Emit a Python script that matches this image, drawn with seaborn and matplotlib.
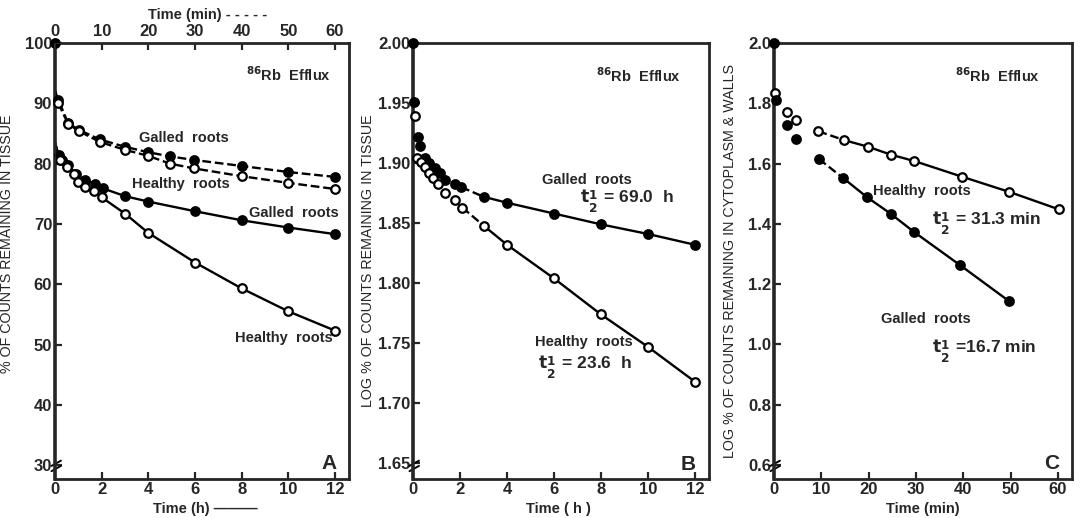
import numpy as np
import matplotlib
matplotlib.use("Agg")
import matplotlib.pyplot as plt
import seaborn as sns

# ---- panel A: % of counts remaining (solid = hours, dashed = minutes)
a_min_galled = [0, 0.7, 2.8, 5.1, 9.6, 14.9, 19.9, 24.6, 29.8, 40.1, 50, 59.9]
a_min_galled_pct = [92.0, 90.6, 86.7, 85.6, 84.0, 82.8, 81.9, 81.2, 80.6, 79.6, 78.6, 77.8]
a_min_healthy = [0, 0.7, 2.8, 5.1, 9.6, 14.9, 19.9, 24.6, 29.8, 40.1, 50, 59.9]
a_min_healthy_pct = [92.0, 90.0, 86.6, 85.4, 83.6, 82.3, 81.3, 80.0, 79.2, 77.9, 76.8, 75.8]

a_h_galled = [0, 0.15, 0.3, 0.55, 0.9, 1.3, 1.7, 2.05, 3, 4, 6, 8, 10, 12]
a_h_galled_pct = [83.5, 81.4, 80.6, 79.7, 78.3, 77.2, 76.7, 75.9, 74.6, 73.7, 72.1, 70.6, 69.4, 68.3]
a_h_healthy = [0, 0.2, 0.5, 0.8, 1.0, 1.3, 1.65, 2.0, 3, 4, 6, 8, 10, 12]
a_h_healthy_pct = [83.5, 80.6, 79.4, 78.3, 76.9, 76.1, 75.4, 74.4, 71.7, 68.5, 63.6, 59.3, 55.5, 52.3]

# ---- panel B: log % remaining in tissue
b_galled_h = [0.22, 0.3, 0.5, 0.7, 0.92, 1.13, 1.34, 1.77, 2.05, 3, 4, 6, 8, 10, 12]
b_galled_log = [1.922, 1.914, 1.904, 1.900, 1.896, 1.892, 1.886, 1.883, 1.880,
                1.872, 1.867, 1.858, 1.849, 1.841, 1.832]
b_healthy_h = [0.1, 0.15, 0.35, 0.5, 0.7, 0.85, 1.05, 1.35, 1.8, 2.1, 3, 4, 6, 8, 10, 12]
b_healthy_log = [1.939, 1.904, 1.901, 1.897, 1.892, 1.888, 1.883, 1.875, 1.869, 1.863,
                 1.848, 1.832, 1.804, 1.774, 1.747, 1.718]
b_first_galled = [0.05, 1.951]

# ---- panel C: log % remaining in cytoplasm & walls
c_healthy_min = [0.3, 2.8, 4.7, 9.4, 14.75, 19.8, 24.8, 29.7, 39.8, 49.7, 60.2]
c_healthy_log = [1.833, 1.770, 1.743, 1.707, 1.678, 1.656, 1.629, 1.608, 1.556, 1.506, 1.448]
c_galled_min = [0.5, 2.8, 4.7, 9.5, 14.6, 19.6, 24.7, 29.5, 39.4, 49.7]
c_galled_log = [1.81, 1.727, 1.683, 1.615, 1.552, 1.489, 1.433, 1.374, 1.262, 1.143]

a_yticks = [30, 40, 50, 60, 70, 80, 90, 100]
b_yticks = [1.65, 1.70, 1.75, 1.80, 1.85, 1.90, 1.95, 2.00]
c_yticks = [0.6, 0.8, 1.0, 1.2, 1.4, 1.6, 1.8, 2.0]
h_ticks = [0, 2, 4, 6, 8, 10, 12]
min_ticks = [0, 10, 20, 30, 40, 50, 60]

sns.set_style("ticks", {"xtick.direction": "in", "ytick.direction": "in"})
plt.rcParams["font.family"] = ["Liberation Sans", "DejaVu Sans"]
plt.rcParams["mathtext.default"] = "bf"

fig = plt.figure(figsize=(10.81, 5.18), dpi=100)
axA = fig.add_axes([0.0509, 0.0753, 0.272, 0.8417])
axB = fig.add_axes([0.3821, 0.0753, 0.2738, 0.8417])
axC = fig.add_axes([0.7160, 0.0753, 0.2757, 0.8417])

K = "black"
TXT = dict(fontsize=10.5, fontweight="bold", va="center")
HALF = dict(fontsize=12.5, fontweight="bold", va="center")
TICK = 12
T_HALF = r"$t_{\genfrac{}{}{0}{0}{1}{2}}$"


def line(ax, x, y, ls="-"):
    sns.lineplot(x=x, y=y, ax=ax, color=K, linestyle=ls, lw=1.7,
                 estimator=None, sort=False, zorder=2)


def pts(ax, x, y, filled):
    sns.scatterplot(x=x, y=y, ax=ax, s=38, marker="o",
                    facecolor=K if filled else "white", edgecolor=K,
                    linewidth=1.6, zorder=3, clip_on=False)


def frame(ax):
    for side in ["top", "right", "bottom"]:
        ax.spines[side].set_linewidth(2)
    ax.spines["left"].set_linewidth(2.6)
    ax.tick_params(axis="x", length=5, width=1.6, labelsize=TICK, pad=2)
    ax.tick_params(axis="y", length=5, width=1.6, labelsize=TICK, pad=2)
    for lab in ax.get_xticklabels() + ax.get_yticklabels():
        lab.set_fontweight("bold")
    # axis break marks
    for dy in (0.0, 0.012):
        ax.plot([-0.012, 0.02], [0.018 + dy, 0.03 + dy], transform=ax.transAxes,
                color=K, lw=1.4, clip_on=False)


# ---------------- A
axA.set_xlim(0, 12.6)
axA.set_ylim(27.7, 100)
axA.set_xticks(h_ticks)
axA.set_yticks(a_yticks)
line(axA, a_h_galled, a_h_galled_pct)
line(axA, a_h_healthy, a_h_healthy_pct)
pts(axA, a_h_galled[1:], a_h_galled_pct[1:], True)
pts(axA, a_h_healthy[1:], a_h_healthy_pct[1:], False)
pts(axA, [0], [100], True)

axA2 = axA.twiny()
axA2.set_xlim(0, 63)
axA2.set_xticks(min_ticks)
line(axA2, a_min_galled, a_min_galled_pct, "--")
line(axA2, a_min_healthy, a_min_healthy_pct, "--")
pts(axA2, a_min_galled[1:], a_min_galled_pct[1:], True)
pts(axA2, a_min_healthy[1:], a_min_healthy_pct[1:], False)
axA2.tick_params(length=5, width=1.6, labelsize=TICK, pad=3)
for lab in axA2.get_xticklabels():
    lab.set_fontweight("bold")
axA2.set_xlabel("Time (min) - - - - -", fontsize=10.5, fontweight="bold")
axA2.xaxis.set_label_coords(0.52, 1.055)
frame(axA)

axA.set_ylabel("% OF COUNTS REMAINING IN TISSUE", fontsize=10.3)
axA.yaxis.set_label_coords(-0.14, 0.54)
axA.set_xlabel("Time (h) ———", fontsize=10.5, fontweight="bold")
axA.xaxis.set_label_coords(0.51, -0.052)
axA.text(8.2, 94.7, r"$^{86}$Rb  Efflux", **TXT)
axA.text(3.6, 84.3, "Galled  roots", **TXT)
axA.text(3.3, 76.6, "Healthy  roots", **TXT)
axA.text(8.3, 71.8, "Galled  roots", **TXT)
axA.text(7.7, 51.0, "Healthy  roots", **TXT)
axA.text(11.4, 30.3, "A", fontsize=15, fontweight="bold", va="center")

# ---------------- B
axB.set_xlim(0, 12.6)
axB.set_ylim(1.637, 2.0)
axB.set_xticks(h_ticks)
axB.set_yticks(b_yticks)
axB.set_yticklabels([f"{v:.2f}" for v in b_yticks])
line(axB, b_galled_h[8:10], b_galled_log[8:10], "--")
line(axB, b_galled_h[9:], b_galled_log[9:])
line(axB, b_healthy_h[9:11], b_healthy_log[9:11], "--")
line(axB, b_healthy_h[10:], b_healthy_log[10:])
pts(axB, b_galled_h, b_galled_log, True)
pts(axB, b_healthy_h, b_healthy_log, False)
pts(axB, [0, b_first_galled[0]], [2.0, b_first_galled[1]], True)
frame(axB)
axB.set_ylabel("LOG % OF COUNTS REMAINING IN TISSUE", fontsize=10.3)
axB.yaxis.set_label_coords(-0.13, 0.5)
axB.set_xlabel("Time ( h )", fontsize=10.5, fontweight="bold")
axB.xaxis.set_label_coords(0.49, -0.052)
axB.text(7.8, 1.973, r"$^{86}$Rb  Efflux", **TXT)
axB.text(5.5, 1.886, "Galled  roots", **TXT)
axB.text(7.1, 1.868, T_HALF + " = 69.0  h", **HALF)
axB.text(5.2, 1.751, "Healthy  roots", **TXT)
axB.text(5.3, 1.730, T_HALF + " = 23.6  h", **HALF)
axB.text(11.4, 1.649, "B", fontsize=15, fontweight="bold", va="center")

# ---------------- C
axC.set_xlim(0, 63)
axC.set_ylim(0.553, 2.0)
axC.set_xticks(min_ticks)
axC.set_yticks(c_yticks)
axC.set_yticklabels([f"{v:.1f}" for v in c_yticks])
line(axC, c_healthy_min[3:5], c_healthy_log[3:5], "--")
line(axC, c_healthy_min[4:], c_healthy_log[4:])
line(axC, c_galled_min[3:5], c_galled_log[3:5], "--")
line(axC, c_galled_min[4:], c_galled_log[4:])
pts(axC, c_healthy_min, c_healthy_log, False)
pts(axC, c_galled_min, c_galled_log, True)
pts(axC, [0], [2.0], True)
frame(axC)
axC.set_ylabel("LOG % OF COUNTS REMAINING IN CYTOPLASM & WALLS", fontsize=10.3)
axC.yaxis.set_label_coords(-0.125, 0.5)
axC.set_xlabel("Time (min)", fontsize=10.5, fontweight="bold")
axC.xaxis.set_label_coords(0.50, -0.052)
axC.text(38.3, 1.893, r"$^{86}$Rb  Efflux", **TXT)
axC.text(20.9, 1.51, "Healthy  roots", **TXT)
axC.text(33.4, 1.400, T_HALF + " = 31.3 min", **HALF)
axC.text(22.6, 1.083, "Galled  roots", **TXT)
axC.text(33.4, 0.975, T_HALF + " =16.7 min", **HALF)
axC.text(57.0, 0.603, "C", fontsize=15, fontweight="bold", va="center")

fig.savefig("out.png", dpi=100)
